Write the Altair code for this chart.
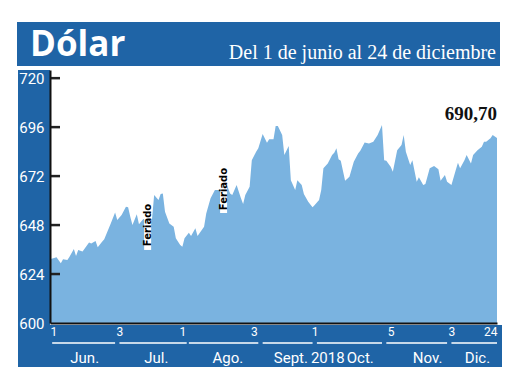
import altair as alt
import pandas as pd

# ---- data ----
days = [0, 3, 5, 6, 8, 9, 11, 12, 13, 15, 18, 19, 21, 22, 24, 25, 28, 30, 31, 33,
        35, 36, 37, 38, 40, 41, 43, 45, 47, 48, 50, 51, 52, 53, 55, 57, 58, 60, 61, 62,
        64, 65, 67, 68, 71, 72, 74, 76, 78, 81, 83, 84, 86, 88, 89, 90, 92, 93, 95, 96,
        98, 100, 101, 103, 104, 105, 107, 108, 110, 111, 113, 114, 116, 117, 119, 121,
        122, 124, 125, 126, 128, 130, 131, 132, 133, 134, 136, 138, 140, 142, 143, 145,
        147, 149, 151, 153, 154, 155, 157, 158, 160, 162, 163, 164, 166, 167, 169, 170,
        172, 173, 175, 177, 179, 180, 182, 183, 185, 187, 188, 189, 191, 192, 194, 195,
        197, 199, 200, 201, 203, 204, 206]
values = [631.2, 632.2, 629.3, 631.2, 630.9, 632.5, 636.3, 632.8, 635.8, 635.0, 639.4,
          639.0, 640.2, 637.1, 639.8, 641.0, 648.8, 654.2, 650.5, 652.9, 657.0, 656.7,
          652.1, 648.0, 653.3, 648.4, 651.0, 650.8, 650.8, 662.7, 660.3, 663.2, 663.5,
          654.5, 648.8, 647.2, 641.5, 638.2, 637.4, 641.5, 644.2, 642.6, 646.4, 642.6,
          647.2, 653.7, 661.1, 665.2, 665.2, 669.2, 663.5, 662.7, 667.6, 661.1, 658.3,
          662.7, 666.8, 679.8, 683.9, 685.6, 692.6, 688.3, 690.0, 690.0, 696.5, 696.5,
          692.1, 682.3, 686.7, 670.0, 665.2, 670.0, 667.6, 663.2, 659.4, 656.7, 657.8,
          660.3, 665.2, 675.8, 678.2, 682.3, 683.4, 685.6, 680.2, 679.5, 669.7, 671.7,
          679.0, 683.1, 684.4, 688.5, 688.0, 688.8, 692.1, 697.0, 679.8, 679.5, 676.6,
          674.1, 684.7, 687.2, 692.1, 683.9, 677.4, 679.8, 669.2, 671.4, 667.6, 668.1,
          675.8, 676.9, 675.3, 669.7, 672.5, 669.2, 667.6, 675.0, 678.5, 675.8, 679.8,
          682.3, 678.2, 682.3, 684.7, 686.4, 688.8, 688.8, 690.5, 692.1, 690.7]

y_ticks = [600, 624, 648, 672, 696, 720]
tick_days = [0, 32, 61, 94, 122, 157, 185, 206]          # 1 Jun, 3 Jul, 1 Ago, 3 Sep, 1 Oct, 5 Nov, 3 Dic, 24 Dic

month_names = ["Jun.", "Jul.", "Ago.", "Sept.", "Oct.", "Nov.", "Dic."]
month_start = [1, 32, 64, 98, 123, 155, 185]
month_end = [30, 63, 96, 121, 153, 183, 206]
month_label_day = [16, 49, 82, 111, 143, 174, 197]
year_label = "2018"
year_label_day = 128

feriado_day = [45, 80]
feriado_low = [635.8, 653.9]
feriado_high = [660.3, 677.4]

title = "Dólar"
subtitle = "Del 1 de junio al 24 de diciembre"

# ---- helpers ----
start = pd.Timestamp("2018-06-01")


def to_date(d):
    return (start + pd.Timedelta(days=d)).strftime("%Y-%m-%d")


df = pd.DataFrame({"date": [to_date(d) for d in days], "value": values})
last = df.tail(1).copy()

months = pd.DataFrame({
    "name": month_names,
    "date": [to_date(d) for d in month_start],
    "end": [to_date(d) for d in month_end],
})
labels = pd.DataFrame({
    "label": month_names + [year_label],
    "date": [to_date(d) for d in month_label_day] + [to_date(year_label_day)],
})
fer = pd.DataFrame({
    "date": [to_date(d) for d in feriado_day],
    "value": feriado_low,
    "high": feriado_high,
    "txt": ["Feriado", "Feriado"],
})
fer["mid"] = (fer["value"] + fer["high"]) / 2
yt = pd.DataFrame({"value": y_ticks[1:]})


def dt(d):
    t = start + pd.Timedelta(days=d)
    return alt.DateTime(year=t.year, month=t.month, date=t.day, utc=True)


BLUE = "#1f64a6"
AREA = "#7ab3e0"
NARROW = "Liberation Sans Narrow, Arial Narrow, Roboto, sans-serif"

xscale = alt.Scale(type="utc", domain=[dt(0), dt(206)])
yscale = alt.Scale(domain=[600, 724], nice=False, zero=False)

x_axis = alt.Axis(values=[dt(d) for d in tick_days],
                  labelExpr="utcdate(datum.value)", ticks=False,
                  labelColor="white", labelFont=NARROW, labelFontSize=12,
                  labelPadding=3, labelFlush=True, domainColor="#111",
                  domainWidth=2, grid=False, zindex=1, title=None)
y_axis = alt.Axis(values=y_ticks, ticks=False, labelColor="white",
                  labelFont=NARROW, labelFontSize=15, labelPadding=6,
                  domainColor="#111", domainWidth=2, grid=False, zindex=1,
                  title=None)


def X(field="date"):
    return alt.X(f"{field}:T", scale=xscale, axis=x_axis, title=None)


def Y(field="value"):
    return alt.Y(f"{field}:Q", scale=yscale, axis=y_axis, title=None)


one = pd.DataFrame({"a": [0]})

header = alt.Chart(one).mark_rect(color=BLUE).encode(
    x=alt.value(-33), x2=alt.value(450), y=alt.value(-48), y2=alt.value(-4))
left_panel = alt.Chart(one).mark_rect(color=BLUE).encode(
    x=alt.value(-32), x2=alt.value(0), y=alt.value(0), y2=alt.value(297))
band = alt.Chart(one).mark_rect(color=BLUE).encode(
    x=alt.value(-32), x2=alt.value(452), y=alt.value(255), y2=alt.value(297))

title_txt = alt.Chart(one).mark_text(
    text=title, color="white", font="Open Sans", fontWeight="bold", fontSize=35,
    align="left", baseline="alphabetic").encode(x=alt.value(-20), y=alt.value(-14))
sub_txt = alt.Chart(one).mark_text(
    text=subtitle, color="white", font="Liberation Serif", fontSize=20,
    align="right", baseline="alphabetic").encode(x=alt.value(446), y=alt.value(-11))

area = alt.Chart(df).mark_area(color=AREA, opacity=1).encode(
    x=X(), y=Y(), y2=alt.datum(600))

ytick_rules = alt.Chart(yt).mark_rule(color="#222", strokeWidth=2.5).encode(
    y=Y(), x=alt.value(0), x2=alt.value(10))

fer_box = alt.Chart(fer).mark_rule(color="white", strokeWidth=7).encode(
    x=X(), y=Y(), y2="high:Q")
fer_txt = alt.Chart(fer).mark_text(
    angle=270, color="black", fontSize=10, font="DejaVu Sans", fontWeight="bold",
    align="center", baseline="middle").encode(
    x=X(), y=Y("mid"), text="txt:N")

last_txt = alt.Chart(last).transform_calculate(
    lab="replace(format(datum.value, '.2f'), '.', ',')"
).mark_text(color="#111", font="Liberation Serif", fontWeight="bold", fontSize=19,
            align="right", baseline="alphabetic", dy=-18).encode(
    x=X(), y=Y(), text="lab:N")

month_lines = alt.Chart(months).mark_rule(color="white", strokeWidth=1.5).encode(
    x=X(), x2="end:T", y=alt.value(273))
month_txt = alt.Chart(labels).mark_text(
    color="white", font=NARROW, fontSize=15, align="center", baseline="middle").encode(
    x=X(), y=alt.value(288), text="label:N")

chart = alt.layer(
    header, left_panel, band, title_txt, sub_txt, area, ytick_rules,
    fer_box, fer_txt, last_txt, month_lines, month_txt
).properties(
    width=447, height=253,
    autosize=alt.AutoSizeParams(type="none"),
    padding={"left": 42, "top": 62, "right": 15, "bottom": 59},
).configure_view(stroke=None)

chart.save("out.html", embed_options={"renderer": "svg", "actions": False})
